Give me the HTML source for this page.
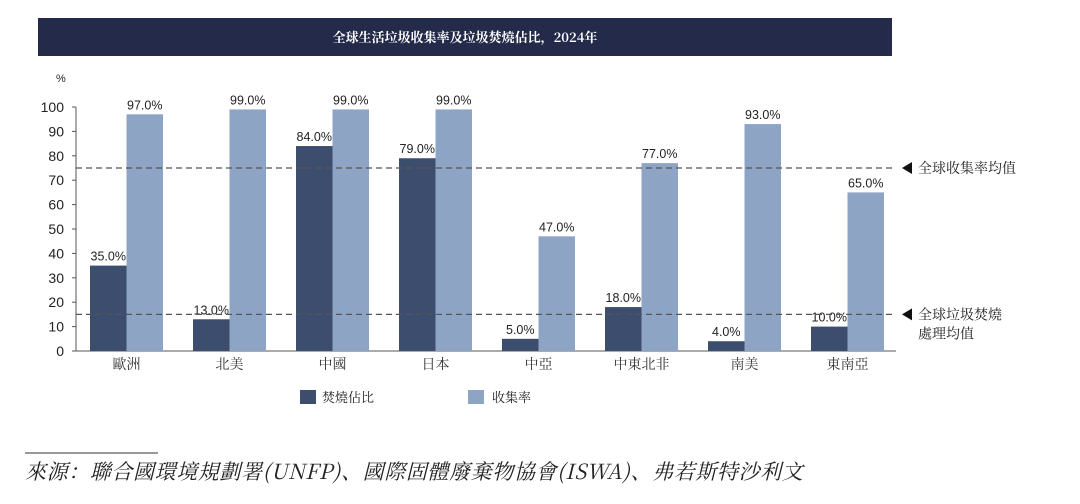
<!DOCTYPE html>
<html><head><meta charset="utf-8">
<style>
html,body{margin:0;padding:0;background:#fff;width:1080px;height:504px;overflow:hidden}
svg{display:block;font-family:"Liberation Sans","Noto Sans CJK TC",sans-serif}
.cjk{font-family:"Noto Serif CJK SC","Noto Sans CJK TC",serif}
</style></head>
<body>
<svg id="chart" width="1080" height="504">
  <rect x="38" y="18" width="854" height="38" fill="#242a4a"/>
  <text x="465" y="42" text-anchor="middle" fill="#fff" font-size="13" font-weight="bold" class="cjk">全球生活垃圾收集率及垃圾焚燒佔比，2024年</text>
  <text x="56" y="82" font-size="11" fill="#222">%</text>
  <g id="yaxis"></g>
  <g id="bars"></g>
  <g id="refs"></g>
  <g>
    <rect x="300" y="390" width="16" height="14" fill="#3d4d6d"/>
    <text x="322" y="402" font-size="13" fill="#222" class="cjk">焚燒佔比</text>
    <rect x="468" y="390" width="16" height="14" fill="#8ea4c4"/>
    <text x="492" y="402" font-size="13" fill="#222" class="cjk">收集率</text>
  </g>
  <line x1="25" y1="453" x2="158" y2="453" stroke="#333" stroke-width="1"/>
  <text x="25" y="479" font-size="21" letter-spacing="0.6" fill="#222" font-style="italic" class="cjk">來源：聯合國環境規劃署(UNFP)、國際固體廢棄物協會(ISWA)、弗若斯特沙利文</text>
</svg>
<script>
const categories=["歐洲","北美","中國","日本","中亞","中東北非","南美","東南亞"];
const incineration=[35,13,84,79,5,18,4,10];
const collection=[97,99,99,99,47,77,93,65];
const yTicks=[0,10,20,30,40,50,60,70,80,90,100];
const refCollection=75;
const refIncineration=15;
const NS="http://www.w3.org/2000/svg";
const x0=75,groupW=103,y0=351,yTop=107,xEnd=896;
const yScale=v=>y0-(v/100)*(y0-yTop);
const xGroup=i=>x0+i*groupW;
function mk(tag,attrs,parent,text){const e=document.createElementNS(NS,tag);for(const k in attrs)e.setAttribute(k,attrs[k]);if(text!==undefined)e.textContent=text;parent.appendChild(e);return e;}
const ya=document.getElementById('yaxis');
let l=mk('line',{x1:76,y1:yTop,x2:76,y2:y0,stroke:'#555'},ya);


l=mk('line',{x1:76,y1:y0,x2:xEnd,y2:y0,stroke:'#555'},ya);


yTicks.forEach(t=>{
  const y=yScale(t);
  const tk=mk('line',{x1:72,y1:y,x2:76,y2:y,stroke:'#555'},ya);
  
  
  const tx=mk('text',{x:64,y:y+5,'text-anchor':'end','font-size':14,fill:'#222'},ya,String(t));
  
  
});
const bg=document.getElementById('bars');
categories.forEach((c,i)=>{
  const gx=xGroup(i),cx=gx+groupW/2,bw=36.5;
  const yi=yScale(incineration[i]),yc=yScale(collection[i]);
  const b1=mk('rect',{x:cx-bw,y:yi,width:bw,height:y0-yi,fill:'#3d4d6d'},bg);
  
  
  const b2=mk('rect',{x:cx,y:yc,width:bw,height:y0-yc,fill:'#8ea4c4'},bg);
  
  
  const t1=mk('text',{x:cx-bw/2,y:yi-5,'text-anchor':'middle','font-size':12.5,fill:'#222'},bg,incineration[i].toFixed(1)+'%');
  
  
  const t2=mk('text',{x:cx+bw/2,y:yc-5,'text-anchor':'middle','font-size':12.5,fill:'#222'},bg,collection[i].toFixed(1)+'%');
  
  
  const cl=mk('text',{x:cx,y:369,'text-anchor':'middle','font-size':14,fill:'#333',class:'cjk'},bg,c);
  
  
});
const rg=document.getElementById('refs');
[[refCollection,['全球收集率均值']],[refIncineration,['全球垃圾焚燒','處理均值']]].forEach(([v,lines])=>{
  const y=yScale(v);
  const dl=mk('line',{x1:76,y1:y,x2:895,y2:y,stroke:'#555','stroke-width':1.3,'stroke-dasharray':'6,4'},rg);
  
  
  const ar=mk('polygon',{points:`902,${y} 912,${y-6} 912,${y+6}`,fill:'#111'},rg);
  
  
  lines.forEach((s,k)=>{
    const t=mk('text',{x:918,y:y+5+k*19,'font-size':14,fill:'#222',class:'cjk'},rg,s);
    
    
  });
});
</script>
</body></html>
